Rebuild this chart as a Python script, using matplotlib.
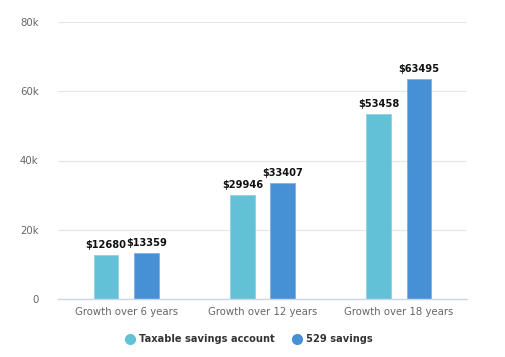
import numpy as np
import matplotlib.pyplot as plt
from matplotlib.lines import Line2D

categories = ["Growth over 6 years", "Growth over 12 years", "Growth over 18 years"]
taxable = [12680, 29946, 53458]
savings529 = [13359, 33407, 63495]
yticks = [0, 20000, 40000, 60000, 80000]
yticklabels = ["0", "20k", "40k", "60k", "80k"]

c_tax = "#62c1d7"
c_529 = "#4690d6"

fig = plt.figure(figsize=(5.06, 3.57), dpi=100)
ax = fig.add_axes([58/506, 1-299/357, 409/506, 277/357])

x = np.arange(len(categories))
w = 0.183
off = 0.148
b1 = ax.bar(x - off, taxable, w, color=c_tax, edgecolor="#8fd3e3", linewidth=0.6, zorder=3)
b2 = ax.bar(x + off, savings529, w, color=c_529, edgecolor="#7fb0e3", linewidth=0.6, zorder=3)

for bars, vals in ((b1, taxable), (b2, savings529)):
    for r, v in zip(bars, vals):
        ax.text(r.get_x() + r.get_width()/2, v + 1400, "$%d" % v, ha="center", va="bottom",
                fontsize=7.1, fontweight="bold", color="#111111")

ax.set_xlim(-0.5, 2.5)
ax.set_ylim(0, 80000)
ax.set_yticks(yticks)
ax.set_yticklabels(yticklabels)
ax.set_xticks(x)
ax.set_xticklabels(categories)
ax.tick_params(axis="y", length=0, labelsize=7.3, labelcolor="#666666", pad=14)
ax.tick_params(axis="x", length=0, labelsize=7.3, labelcolor="#666666", pad=6)
ax.grid(axis="y", color="#e6e6e6", linewidth=0.8, zorder=0)
for s in ["top", "right", "left"]:
    ax.spines[s].set_visible(False)
ax.spines["bottom"].set_color("#ccd6eb")
ax.spines["bottom"].set_linewidth(1)
ax.spines["bottom"].set_zorder(4)

handles = [Line2D([], [], marker="o", linestyle="", markersize=7, color=c_tax),
           Line2D([], [], marker="o", linestyle="", markersize=7, color=c_529)]
leg = fig.legend(handles, ["Taxable savings account", "529 savings"], loc="center",
                 bbox_to_anchor=(249/506, 1-339/357), ncol=2, frameon=False,
                 prop={"size": 7.1, "weight": "bold"}, handletextpad=0.4,
                 columnspacing=1.7, handlelength=1.0)
for t in leg.get_texts():
    t.set_color("#333333")

plt.savefig("out.png", dpi=100)
